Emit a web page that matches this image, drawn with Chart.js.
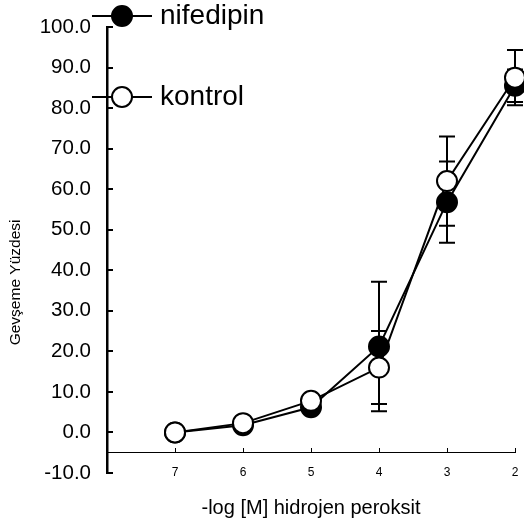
<!DOCTYPE html>
<html>
<head>
<meta charset="utf-8">
<script src="https://cdn.jsdelivr.net/npm/chart.js@4/dist/chart.umd.min.js"></script>
<style>
  html, body { margin: 0; padding: 0; background: #fff; }
  #wrap { width: 524px; height: 527px; }
</style>
</head>
<body>
<div id="wrap"><canvas id="chart"></canvas></div>
<script>
// -log[M] H2O2 doses
const doses = [7, 6, 5, 4, 3, 2];
const nifedipin = [0, 1.8, 6.2, 21.2, 56.8, 85.5];
const nifedipinErr = [0.8, 0.8, 1, 16, 10, 4];
const kontrol = [0, 2.3, 7.8, 16, 62, 87.5];
const kontrolErr = [0.8, 1, 1, 9, 11, 6.8];
const yTicks = [-10, 0, 10, 20, 30, 40, 50, 60, 70, 80, 90, 100];
const yTitle = "Gevşeme Yüzdesi";

const FONT = "'Liberation Sans', Arial, sans-serif";

// error bars drawn under the markers
const errorBars = {
  id: "errorBars",
  beforeDatasetsDraw(chart) {
    const ctx = chart.ctx;
    const y = chart.scales.y;
    ctx.save();
    ctx.strokeStyle = "#000";
    ctx.lineWidth = 2;
    chart.data.datasets.forEach((ds, i) => {
      const meta = chart.getDatasetMeta(i);
      meta.data.forEach((pt, j) => {
        const v = ds.data[j].y, e = ds.errors[j];
        const top = y.getPixelForValue(v + e);
        const bot = y.getPixelForValue(v - e);
        ctx.beginPath();
        ctx.moveTo(pt.x, top); ctx.lineTo(pt.x, bot);
        ctx.moveTo(pt.x - 8, top); ctx.lineTo(pt.x + 8, top);
        ctx.moveTo(pt.x - 8, bot); ctx.lineTo(pt.x + 8, bot);
        ctx.stroke();
      });
    });
    ctx.restore();
  }
};

// legend (line + marker + big label) and the y title, which sits a bit low
const extras = {
  id: "extras",
  afterDraw(chart) {
    const ctx = chart.ctx;
    const items = [
      { ds: chart.data.datasets[1], y: 16 },
      { ds: chart.data.datasets[0], y: 97 }
    ];
    ctx.save();
    items.forEach(it => {
      ctx.strokeStyle = "#000";
      ctx.lineWidth = 2;
      ctx.beginPath();
      ctx.moveTo(92, it.y); ctx.lineTo(152, it.y);
      ctx.stroke();
      ctx.beginPath();
      ctx.arc(122, it.y, 10, 0, Math.PI * 2);
      ctx.fillStyle = it.ds.pointBackgroundColor;
      ctx.fill();
      ctx.stroke();
      ctx.fillStyle = "#000";
      ctx.font = "28px " + FONT;
      ctx.textBaseline = "middle";
      ctx.textAlign = "left";
      ctx.fillText(it.ds.label, 160, it.y);
    });

    ctx.translate(16, chart.scales.y.getPixelForValue(37));
    ctx.rotate(-Math.PI / 2);
    ctx.font = "15.5px " + FONT;
    ctx.textAlign = "center";
    ctx.textBaseline = "middle";
    ctx.fillText(yTitle, 0, 0);
    ctx.restore();
  }
};

new Chart(document.getElementById("chart"), {
  type: "line",
  data: {
    datasets: [
      {
        label: "kontrol",
        data: doses.map((d, i) => ({ x: d, y: kontrol[i] })),
        errors: kontrolErr,
        borderColor: "#000",
        borderWidth: 2,
        pointRadius: 10,
        pointBorderWidth: 2,
        pointBackgroundColor: "#fff",
        pointBorderColor: "#000",
        clip: false,
        order: 0
      },
      {
        label: "nifedipin",
        data: doses.map((d, i) => ({ x: d, y: nifedipin[i] })),
        errors: nifedipinErr,
        borderColor: "#000",
        borderWidth: 2,
        pointRadius: 10,
        pointBorderWidth: 2,
        pointBackgroundColor: "#000",
        pointBorderColor: "#000",
        clip: false,
        order: 1
      }
    ]
  },
  options: {
    responsive: true,
    maintainAspectRatio: false,
    animation: false,
    events: [],
    layout: { autoPadding: false, padding: { top: 27, right: 9, left: 0, bottom: 0 } },
    plugins: {
      legend: { display: false },
      tooltip: { enabled: false },
      title: {
        display: true,
        position: "bottom",
        fullSize: false,
        text: "-log [M] hidrojen peroksit",
        color: "#000",
        font: { family: FONT, size: 20, weight: "normal" },
        padding: { top: 23, bottom: 7 }
      }
    },
    scales: {
      x: {
        type: "linear",
        min: 2,
        max: 8,
        reverse: true,
        position: { y: -5 },
        afterBuildTicks: s => { s.ticks = doses.map(v => ({ value: v })); },
        afterFit: s => { s.paddingLeft = 0; s.paddingRight = 0; },
        ticks: { color: "#000", font: { family: FONT, size: 12 }, padding: 18 },
        grid: { drawOnChartArea: false, tickLength: -5, color: "#000", lineWidth: 1 },
        border: { color: "#000", width: 1 }
      },
      y: {
        min: -10,
        max: 100,
        afterBuildTicks: s => { s.ticks = yTicks.map(v => ({ value: v })); },
        afterFit: s => { s.width = 107; s.paddingTop = 0; s.paddingBottom = 0; },
        ticks: {
          color: "#000",
          font: { family: FONT, size: 20.5 },
          padding: 22,
          callback: v => v.toFixed(1)
        },
        grid: { drawOnChartArea: false, tickLength: -6, color: "#000", lineWidth: 2 },
        border: { color: "#000", width: 2.5 }
      }
    }
  },
  plugins: [errorBars, extras]
});
</script>
</body>
</html>
